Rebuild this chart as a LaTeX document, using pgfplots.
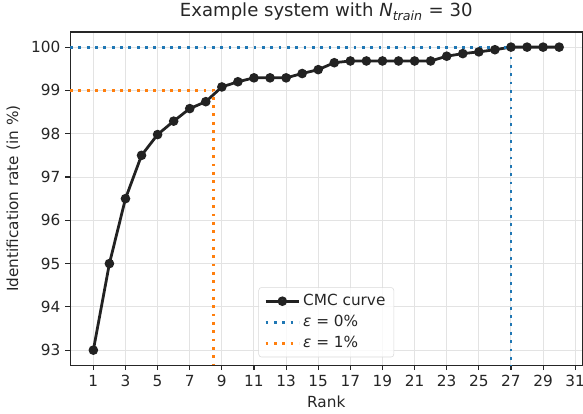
\documentclass[border=0pt]{standalone}
\usepackage{fontspec}
\setmainfont{DejaVu Sans}
\usepackage{pgfplots}
\pgfplotsset{compat=1.18}
\definecolor{mplblue}{HTML}{1F77B4}
\definecolor{mplorange}{HTML}{FF7F0E}
\definecolor{curve}{HTML}{222222}
\definecolor{spine}{HTML}{262626}
\begin{document}
\begin{tikzpicture}
\begin{axis}[
  scale only axis, width=368.6pt, height=239.8pt,
  xmin=-0.45, xmax=31.45, ymin=92.65, ymax=100.35,
  xtick={1,3,...,31}, ytick={93,...,100},
  grid=major, major grid style={draw=gray!22, line width=0.7pt},
  axis line style={draw=spine, line width=0.8pt},
  tick style={draw=spine, line width=0.8pt},
  tick align=outside, xtick pos=bottom, ytick pos=left,
  major tick length=3.5pt,
  tick label style={font=\fontsize{11}{13}\selectfont, text=spine},
  /pgf/number format/assume math mode=true,
  title={Example system with \textit{N}\textsubscript{\textit{train}} = 30},
  title style={font=\fontsize{13}{15}\selectfont, text=spine, yshift=-1.5pt},
  xlabel={Rank}, ylabel={Identification rate (in \%)},
  label style={font=\fontsize{11}{13}\selectfont, text=spine},
  ylabel style={yshift=1pt},
  legend style={at={(0.5,0.024)}, anchor=south, draw=gray!30, rounded corners=2pt,
    fill=white, fill opacity=0.8, text opacity=1, font=\fontsize{11}{13}\selectfont,
    row sep=1.5pt, inner xsep=4pt, inner ysep=3pt, cells={anchor=west}, text=spine},
  legend image code/.code={\draw[mark repeat=2,mark phase=2,#1] plot coordinates {(0pt,0pt)(12pt,0pt)(24pt,0pt)};},
]
\addplot[curve, line width=2pt, mark=*, mark size=2.4pt] coordinates {
(1,93) (2,95) (3,96.5) (4,97.5) (5,97.98) (6,98.29) (7,98.58) (8,98.74) (9,99.08) (10,99.2)
(11,99.29) (12,99.29) (13,99.29) (14,99.39) (15,99.48) (16,99.64) (17,99.68) (18,99.68) (19,99.68) (20,99.68)
(21,99.68) (22,99.68) (23,99.79) (24,99.85) (25,99.89) (26,99.94) (27,100) (28,100) (29,100) (30,100)};
\addlegendentry{CMC curve}
\addplot[mplblue, line width=2pt, dash pattern=on 2pt off 4pt] coordinates {(-0.45,100) (27,100) (27,92.65)};
\addlegendentry{\textit{ε} = 0\%}
\addplot[mplorange, line width=2pt, dash pattern=on 2pt off 4pt] coordinates {(-0.45,99) (8.5,99) (8.5,92.65)};
\addlegendentry{\textit{ε} = 1\%}
\end{axis}
\pgfresetboundingbox
\path (current axis.south west) ++(-50.4pt,-34.6pt) coordinate (bbsw);
\path (current axis.north east) ++(0.4pt,23pt) coordinate (bbne);
\path[use as bounding box] (bbsw) rectangle (bbne);
\end{tikzpicture}
\end{document}
